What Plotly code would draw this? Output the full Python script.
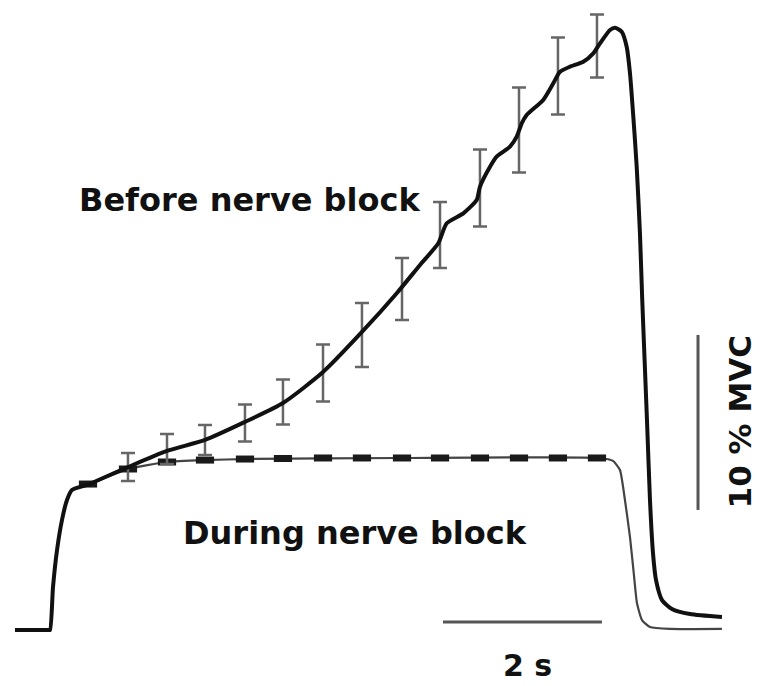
import plotly.graph_objects as go

# Before nerve block: mean force trace (time in s, force in % MVC)
before_t = [-0.443, -0.2, -0.06, -0.02, 0.0, 0.038, 0.089, 0.152, 0.215, 0.278, 0.468, 0.987, 1.481, 1.962,
            2.468, 2.949, 3.456, 3.949, 4.392, 4.684, 4.915, 5.022, 5.232, 5.401, 5.443,
            5.570, 5.654, 5.823, 5.908, 5.971, 6.034, 6.244, 6.371, 6.456, 6.582, 6.751,
            6.877, 6.962, 7.089, 7.152, 7.237, 7.300, 7.342, 7.384, 7.427, 7.468, 7.497,
            7.557, 7.595, 7.633, 7.671, 7.747, 7.873, 8.101, 8.506]
before_y = [0.0, 0.0, 0.0, 0.0, 0.0, 2.46, 4.57, 6.29, 7.43, 8.0, 8.29, 9.31, 10.23, 10.86,
            11.89, 12.97, 14.74, 17.03, 19.26, 20.86, 22.10, 23.24, 23.81, 24.57, 25.33,
            26.47, 27.05, 27.62, 28.19, 28.95, 29.43, 30.29, 31.24, 31.90, 32.19, 32.47,
            32.95, 33.52, 34.29, 34.42, 34.19, 33.33, 31.81, 29.33, 26.47, 22.67, 18.86,
            12.0, 7.43, 4.4, 2.86, 1.71, 1.2, 0.91, 0.74]

# Before nerve block: error bars (mean and SEM)
err_t = [0.987, 1.481, 1.962, 2.468, 2.949, 3.456, 3.949, 4.456, 4.937, 5.443, 5.937, 6.430, 6.924]
err_mean = [9.31, 10.34, 10.86, 11.83, 13.03, 14.69, 16.86, 19.49, 22.57, 25.26, 28.57, 31.66, 33.37]
err_sem = [0.8, 0.86, 0.86, 1.06, 1.29, 1.63, 1.83, 1.77, 1.89, 2.2, 2.43, 2.2, 1.8]

# During nerve block: mean force trace
during_t = [-0.443, -0.2, -0.06, -0.02, 0.0, 0.038, 0.089, 0.152, 0.215, 0.278, 0.506, 0.987, 1.481, 1.962,
            2.468, 4.430, 6.962, 7.127, 7.215, 7.278, 7.342, 7.392, 7.430, 7.494, 7.595,
            7.848, 8.506]
during_y = [0.0, 0.0, 0.0, 0.0, 0.0, 2.46, 4.57, 6.29, 7.43, 8.0, 8.34, 9.2, 9.6, 9.71,
            9.77, 9.83, 9.83, 9.66, 9.14, 7.43, 5.31, 3.14, 1.54, 0.57, 0.17,
            0.06, 0.06]

# During nerve block: small SEM markers
dmark_t = [0.481, 0.987, 1.481, 1.962, 2.468, 2.949, 3.456, 3.949, 4.456, 4.937, 5.443, 5.937, 6.430, 6.924]
dmark_y = [8.34, 9.2, 9.6, 9.71, 9.77, 9.8, 9.83, 9.83, 9.83, 9.83, 9.83, 9.83, 9.83, 9.83]

# Scale bars
time_bar_t = [4.975, 6.987]   # 2 s
time_bar_y = [0.46, 0.46]
force_bar_t = [8.203, 8.203]
force_bar_y = [6.86, 16.86]   # 10 % MVC

labels = ["Before nerve block", "During nerve block", "2 s", "10 % MVC"]

fig = go.Figure()

fig.add_trace(go.Scatter(x=during_t, y=during_y, mode="lines",
                         line=dict(color="#444444", width=2.2, shape="spline", smoothing=0.5),
                         hoverinfo="skip"))
fig.add_trace(go.Scatter(x=dmark_t, y=dmark_y, mode="markers",
                         marker=dict(symbol="line-ew", size=13,
                                     line=dict(color="#1a1a1a", width=7)),
                         hoverinfo="skip"))
fig.add_trace(go.Scatter(x=err_t, y=err_mean, mode="markers",
                         marker=dict(size=1, color="rgba(0,0,0,0)"),
                         error_y=dict(type="data", array=err_sem, visible=True,
                                      color="#666666", thickness=2.5, width=7),
                         hoverinfo="skip"))
fig.add_trace(go.Scatter(x=before_t, y=before_y, mode="lines",
                         line=dict(color="#111111", width=4, shape="spline", smoothing=0.6),
                         hoverinfo="skip"))
fig.add_trace(go.Scatter(x=time_bar_t, y=time_bar_y, mode="lines",
                         line=dict(color="#555555", width=3), hoverinfo="skip"))
fig.add_trace(go.Scatter(x=force_bar_t, y=force_bar_y, mode="lines",
                         line=dict(color="#555555", width=3), hoverinfo="skip"))

font = dict(family="DejaVu Sans", size=32, color="#111111")
fig.add_annotation(x=2.52, y=24.55, text="<b>" + labels[0] + "</b>", showarrow=False,
                   xanchor="center", yanchor="middle", font=font)
fig.add_annotation(x=3.86, y=5.55, text="<b>" + labels[1] + "</b>", showarrow=False,
                   xanchor="center", yanchor="middle", font=font)
fig.add_annotation(x=6.04, y=-2.05, text="<b>" + labels[2] + "</b>", showarrow=False,
                   xanchor="center", yanchor="middle", font=dict(family="DejaVu Sans", size=30, color="#111111"))
fig.add_annotation(x=8.73, y=11.9, text="<b>" + labels[3] + "</b>", showarrow=False,
                   textangle=-90, xanchor="center", yanchor="middle",
                   font=dict(family="DejaVu Sans", size=31, color="#111111"))

fig.update_layout(width=771, height=686, margin=dict(l=0, r=0, t=0, b=0),
                  paper_bgcolor="white", plot_bgcolor="white", showlegend=False,
                  xaxis=dict(range=[-0.633, 9.127], visible=False, fixedrange=True),
                  yaxis=dict(range=[-3.2, 36.0], visible=False, fixedrange=True))

fig.write_html("out.html", config={"displayModeBar": False},
               post_script="document.body.style.margin='0';document.body.style.overflow='hidden';")
